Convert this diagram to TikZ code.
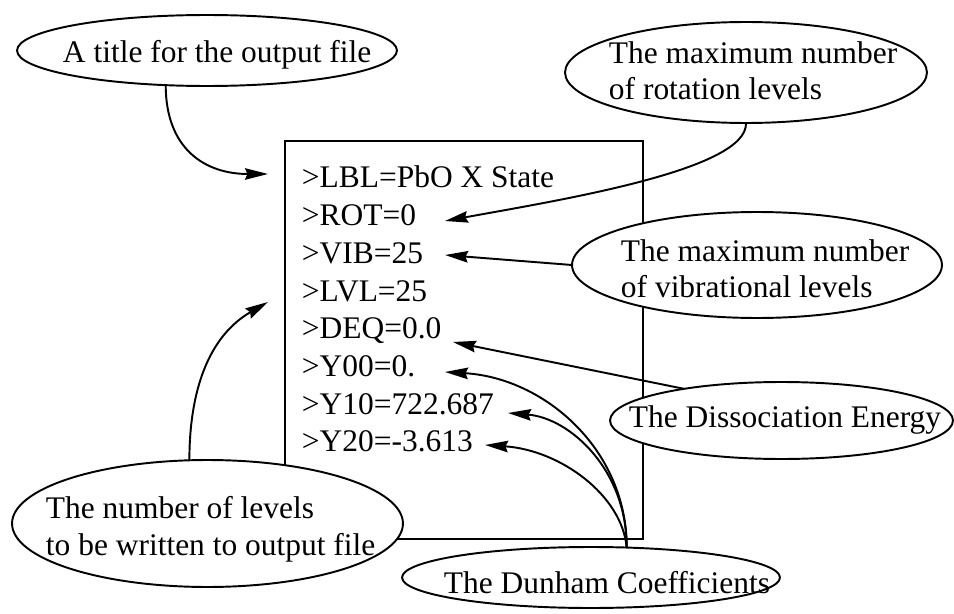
\documentclass[tikz,border=0pt]{standalone}
\usepackage{fontspec}
\setmainfont{Liberation Serif}
\usetikzlibrary{positioning,calc,arrows.meta,shapes.geometric}
\tikzset{>={Stealth[length=0.46cm,width=0.23cm,inset=0.05cm]}}

\begin{document}
\begin{tikzpicture}[x=0.02cm,y=0.02cm,line width=1.1pt,
  font=\fontsize{17.9pt}{20.8pt}\selectfont,
  bubble/.style={draw,ellipse,fill=white,inner sep=0pt,outer sep=0pt},
  txt/.style={inner sep=0pt,align=left},
  cmd/.style={inner sep=0pt,anchor=base west}]
\useasboundingbox (0,0) rectangle (954,613);
% the input file
\node[draw,line width=0.9pt,minimum width=7.16cm,minimum height=7.96cm] (box) at (464,273) {};
\node[cmd] (lbl) at (301,425) {>LBL=PbO X State};
\node[cmd] (lrot) at (301,387.3) {>ROT=0};
\node[cmd] (lvib) at (301,349.6) {>VIB=25};
\node[cmd] (llvl) at (301,311.9) {>LVL=25};
\node[cmd] (ldeq) at (301,274.2) {>DEQ=0.0};
\node[cmd] (ly00) at (301,236.5) {>Y00=0.};
\node[cmd] (ly10) at (301,198.8) {>Y10=722.687};
\node[cmd] (ly20) at (301,161.1) {>Y20=-3.613};
% the notes
\node[bubble,minimum width=7.6cm,minimum height=1.42cm] (ntitle) at (207,562.5) {};
\node[bubble,minimum width=7.24cm,minimum height=2.02cm] (nrot) at (746,540.5) {};
\node[bubble,minimum width=7.4cm,minimum height=2.12cm] (nvib) at (757,348) {};
\node[bubble,minimum width=6.86cm,minimum height=1.54cm] (ndis) at (781.5,192.5) {};
\node[bubble,minimum width=7.56cm,minimum height=1.22cm] (ndun) at (591,35.5) {};
\node[bubble,minimum width=7.82cm,minimum height=2.54cm] (nlev) at (207.5,89.5) {};
\node[txt,anchor=base west] (ttitle) at (62,550) {A title for the output file};
\node[txt,anchor=north west] (trot) at (608,572.5) {The maximum number\\of rotation levels};
\node[txt,anchor=north west] (tvib) at (620,374.5) {The maximum number\\of vibrational levels};
\node[txt,anchor=base west] (tdis) at (628,186) {The Dissociation Energy};
\node[txt,anchor=base west] (tdun) at (443,20) {The Dunham Coefficients};
\node[txt,anchor=north west] (tlev) at (45,117.5) {The number of levels\\to be written to output file};
% arrow ends
\coordinate (atitle) at (268,439);
\coordinate (alev) at (268,311);
\coordinate (arot) at (445,392);
\coordinate (avib) at (445,358);
\coordinate (adeq) at (453,271);
\coordinate (ay00) at (445,241);
\coordinate (ay10) at (508,200);
\coordinate (ay20) at (485,168);
\draw[->] (ntitle.220) to[out=-90,in=180,looseness=1.2] (atitle);
\draw[->] (nlev.106) to[out=90,in=210] (alev);
\draw[->] (nrot.south) .. controls (748,443) and (560,413) .. (arot);
\draw[->] (nvib.west) -- (avib);
\draw[->] (ndis.162) -- (adeq);
\draw[->] (ndun.40) .. controls (627,163) and (545,235) .. (ay00);
\draw[->] (ndun.40) .. controls (627,143) and (570,195) .. (ay10);
\draw[->] (ndun.40) .. controls (622,118) and (560,163) .. (ay20);
\end{tikzpicture}
\end{document}
